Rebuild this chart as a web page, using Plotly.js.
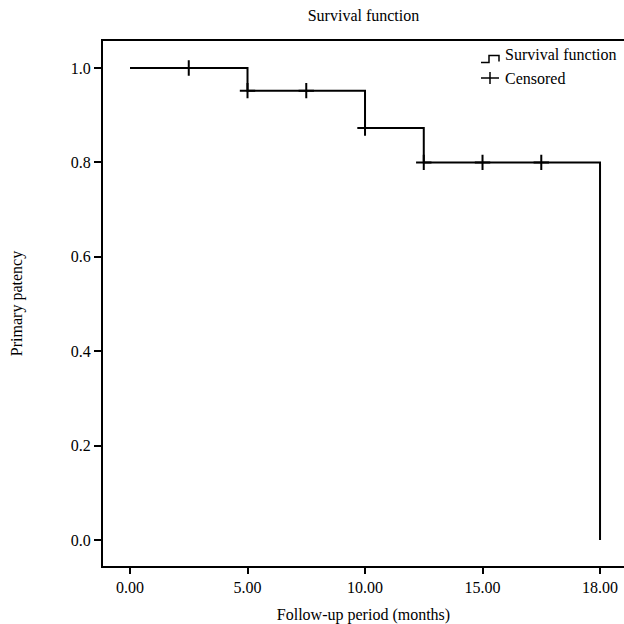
<!DOCTYPE html>
<html>
<head>
<meta charset="utf-8">
<script src="https://cdn.plot.ly/plotly-3.0.1.min.js"></script>
<style>html,body{margin:0;padding:0;background:#fff}#chart{width:624px;height:624px}</style>
</head>
<body>
<div id="chart"></div>
<script>
// Step function (Kaplan-Meier) in axis units
const stepTime = [0, 5, 10, 12.5, 20, 20];
const stepSurvival = [1.0, 0.952, 0.873, 0.8, 0.8, 0.0];
// Censored observations
const censorTime = [2.5, 5, 7.5, 10, 12.5, 15, 17.5];
const censorSurvival = [1.0, 0.952, 0.952, 0.873, 0.8, 0.8, 0.8];
// Axis ticks
const xTickVals = [0, 5, 10, 15, 20];
const xTickText = ["0.00", "5.00", "10.00", "15.00", "18.00"];
const yTickVals = [0, 0.2, 0.4, 0.6, 0.8, 1.0];
const yTickText = ["0.0", "0.2", "0.4", "0.6", "0.8", "1.0"];
const legendLabels = ["Survival function", "Censored"];

const FONT = "Liberation Serif, Times New Roman, serif";
const FS = 16;
const W = 624, H = 624;
const M = {l: 103, r: 0, t: 41, b: 58};
const pw = W - M.l - M.r, ph = H - M.t - M.b;
const px = x => (x - M.l) / pw;
const py = y => (H - M.b - y) / ph;

const traces = [
  {x: stepTime, y: stepSurvival, mode: 'lines', line: {shape: 'hv', color: '#000', width: 2},
   name: legendLabels[0], showlegend: false, hoverinfo: 'skip'},
  {x: censorTime, y: censorSurvival, mode: 'markers',
   marker: {symbol: 'cross-thin-open', size: 11, color: '#000', line: {color: '#000', width: 2}},
   name: legendLabels[1], showlegend: false, hoverinfo: 'skip'}
];

const ink = {color: '#000', width: 1.5};
const shapes = [
  // legend icon: step
  {type: 'path', xref: 'paper', yref: 'paper',
   path: `M ${px(481)} ${py(62.5)} L ${px(489)} ${py(62.5)} L ${px(489)} ${py(55.5)} L ${px(499)} ${py(55.5)} L ${px(499)} ${py(61.5)}`,
   line: ink},
  // legend icon: plus
  {type: 'line', xref: 'paper', yref: 'paper', x0: px(481), x1: px(499), y0: py(78), y1: py(78), line: ink},
  {type: 'line', xref: 'paper', yref: 'paper', x0: px(490), x1: px(490), y0: py(72), y1: py(84), line: ink}
];

const annotations = [
  {xref: 'paper', yref: 'paper', x: px(503), y: py(54), xanchor: 'left', yanchor: 'middle',
   text: legendLabels[0], showarrow: false, font: {family: FONT, size: FS, color: '#000'}},
  {xref: 'paper', yref: 'paper', x: px(503), y: py(78), xanchor: 'left', yanchor: 'middle',
   text: legendLabels[1], showarrow: false, font: {family: FONT, size: FS, color: '#000'}}
];

const layout = {
  width: W, height: H,
  margin: M,
  paper_bgcolor: '#fff', plot_bgcolor: '#fff',
  font: {family: FONT, size: FS, color: '#000'},
  title: {text: 'Survival function', x: (M.l + pw / 2) / W, xanchor: 'center',
          y: 1 - 15 / H, yanchor: 'middle', font: {family: FONT, size: FS, color: '#000'}},
  xaxis: {range: [-1.149, 21.02], tickvals: xTickVals, ticktext: xTickText,
          showgrid: false, zeroline: false, showline: true, linecolor: '#000', linewidth: 2,
          mirror: true, ticks: 'outside', ticklen: 6, tickwidth: 2, tickcolor: '#000',
          tickfont: {family: FONT, size: FS},
          title: {text: 'Follow-up period (months)', standoff: 14, font: {family: FONT, size: FS}}},
  yaxis: {range: [-0.0551, 1.0572], tickvals: yTickVals, ticktext: yTickText,
          showgrid: false, zeroline: false, showline: true, linecolor: '#000', linewidth: 2,
          ticks: 'outside', ticklen: 7, tickwidth: 2, tickcolor: '#000',
          tickfont: {family: FONT, size: FS},
          title: {text: 'Primary patency', standoff: 44, font: {family: FONT, size: FS}}},
  showlegend: false,
  shapes: shapes,
  annotations: annotations
};

Plotly.newPlot('chart', traces, layout, {staticPlot: true, displayModeBar: false});
</script>
</body>
</html>
